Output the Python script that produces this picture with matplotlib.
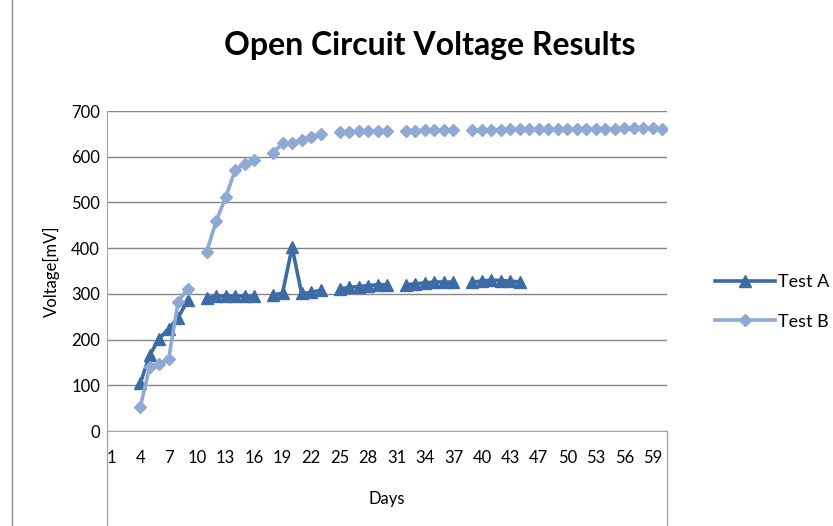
import numpy as np
import matplotlib
matplotlib.use("Agg")
import matplotlib.pyplot as plt
from matplotlib.lines import Line2D

plt.rcParams['font.family'] = ['Lato', 'DejaVu Sans']

# category labels (day 45 was not recorded)
days = list(range(1, 45)) + list(range(46, 61))

nan = np.nan
test_a = [nan, nan, nan, 104, 166, 202, 224, 248, 286, nan,
          291, 295, 295, 295, 295, 295, nan,
          297, 302, 402, 301, 303, 308, nan,
          311, 314, 316, 318, 320, 320, nan,
          320, 322, 324, 326, 326, 326, nan,
          326, 328, 330, 329, 328, 326] + [nan] * 15
test_b = [nan, nan, nan, 52, 140, 146, 158, 283, 311, nan,
          392, 459, 511, 571, 585, 592, nan,
          609, 629, 630, 637, 644, 650, nan,
          654, 655, 656, 656, 656, 656, nan,
          657, 657, 658, 658, 658, 658, nan,
          658, 658, 659, 659, 660, 660, 660, 660, 660, 660, 661,
          661, 661, 661, 661, 661, 662, 662, 662, 662, 661]

col_a = "#3C6BA6"
col_b = "#8FA9D4"
grid_col = "#878787"

fig = plt.figure(figsize=(8.33, 5.26), dpi=100)
ax = fig.add_axes([107 / 833, 1 - 431 / 526, 560 / 833, 320 / 526])

x = np.arange(len(days))
ax.plot(x, np.array(test_a, dtype=float), color=col_a, lw=2.6,
        marker="^", markersize=8, label="Test A")
ax.plot(x, np.array(test_b, dtype=float), color=col_b, lw=2.6,
        marker="D", markersize=6, label="Test B")

ax.set_xlim(-0.5, len(days) - 0.5)
ax.set_ylim(0, 700)
ax.set_yticks(range(0, 701, 100))
ax.set_xticks(x[::3])
ax.set_xticklabels([str(d) for d in days[::3]])
ax.tick_params(axis="both", length=0, labelsize=12, colors="#000000")
ax.tick_params(axis="x", pad=14)
ax.tick_params(axis="y", pad=5)

ax.grid(axis="y", color=grid_col, lw=1)
ax.set_axisbelow(True)
for s in ["top", "right"]:
    ax.spines[s].set_visible(False)
ax.spines["left"].set_color("#a6a6a6")
ax.spines["bottom"].set_color("#a6a6a6")

ax.set_ylabel("Voltage[mV]", fontsize=12, labelpad=8)
ax.set_xlabel("Days", fontsize=12, labelpad=18)

fig.text(430 / 833, 1 - 45 / 526, "Open Circuit Voltage Results",
         ha="center", va="center", fontsize=23, fontweight="bold")

# box lines of the category axis and chart border
fig.add_artist(Line2D([107 / 833, 107 / 833], [0, 1 - 431 / 526],
                      color="#a6a6a6", lw=1))
fig.add_artist(Line2D([667 / 833, 667 / 833], [0, 1 - 431 / 526],
                      color="#a6a6a6", lw=1))
fig.add_artist(Line2D([12 / 833, 12 / 833], [0, 1],
                      color="#8c8c8c", lw=1))

fig.legend(loc="center left", bbox_to_anchor=(699 / 833, 1 - 302 / 526),
           frameon=False, fontsize=13, handlelength=3.3, numpoints=1,
           labelspacing=1.3, handletextpad=0.2)

fig.savefig("out.png", dpi=100)
